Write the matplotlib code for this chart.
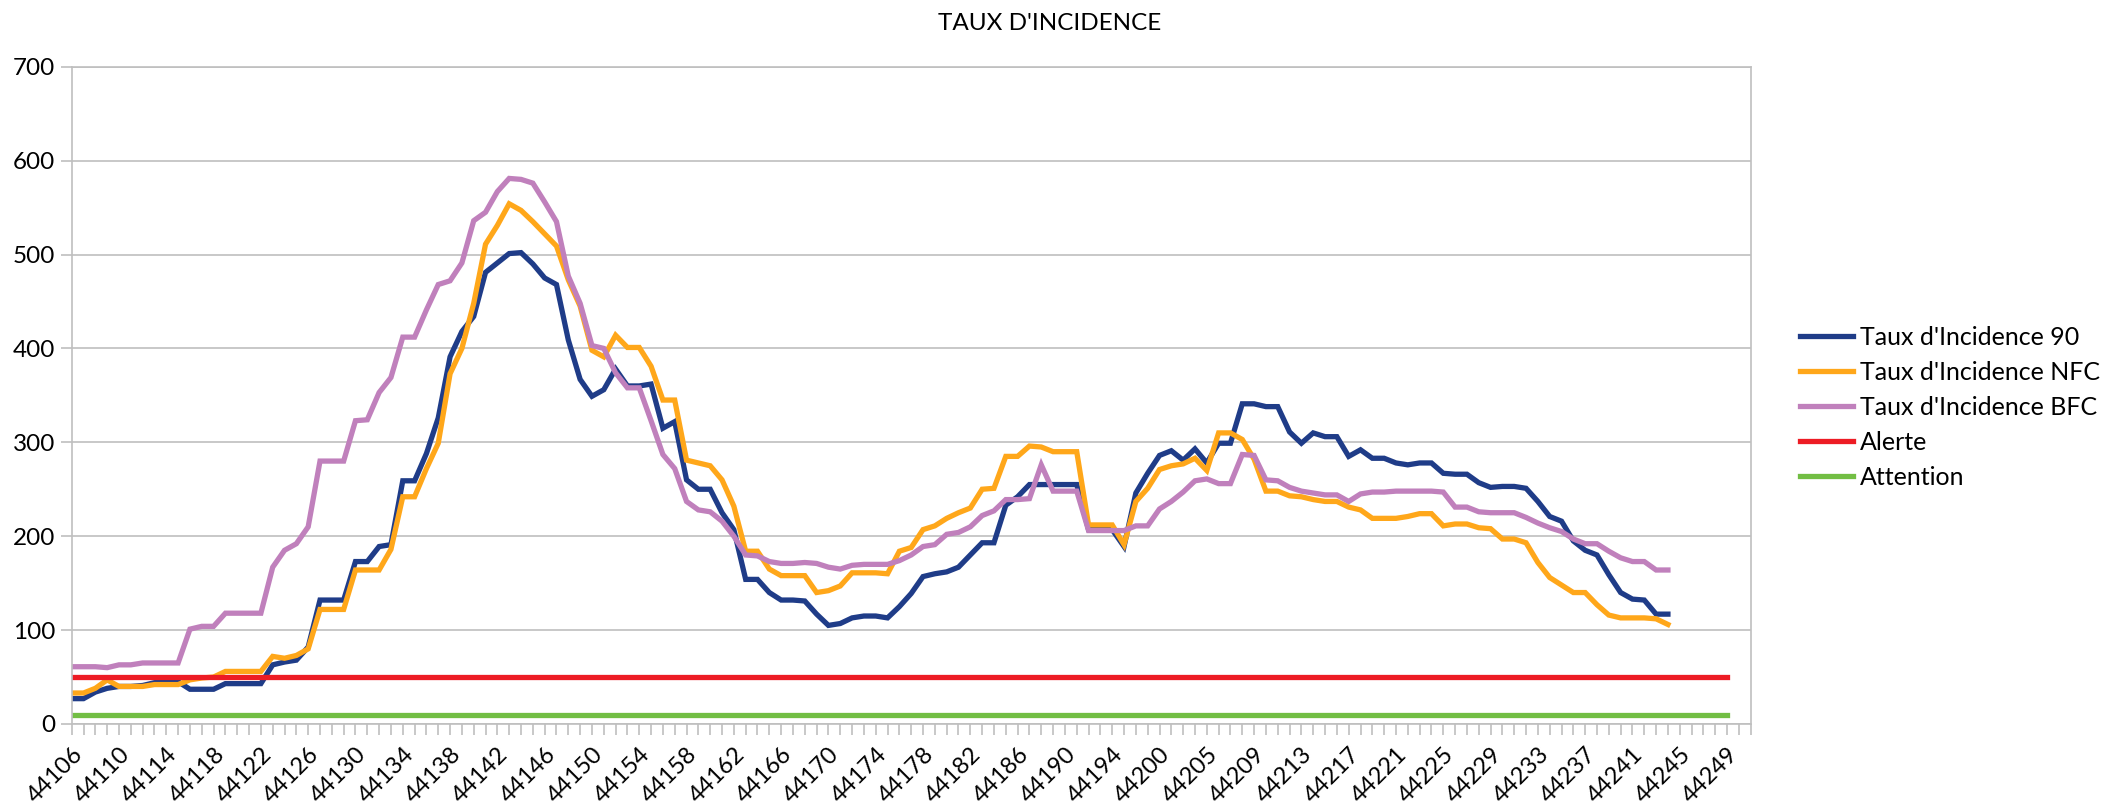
import numpy as np
import matplotlib
matplotlib.use("Agg")
import matplotlib.pyplot as plt

plt.rcParams['font.family'] = ['Lato', 'DejaVu Sans']

# Category axis: Excel serial dates (a few days missing around new year)
dates = (list(range(44106, 44195)) + [44195, 44197, 44199, 44200, 44201, 44202, 44204]
         + list(range(44205, 44250)))

# Series values, one per category (series stop at 44244)
taux_90 = [27, 27, 34, 38, 40, 40, 41, 44, 45, 45, 37, 37, 37, 43, 43, 43, 43, 63, 66, 68,
           82, 132, 132, 132, 173,
           173, 189, 191, 259, 259, 288, 326, 391, 418, 434, 481, 491, 501, 502, 490,
           475, 468, 409, 367, 349, 356, 378, 360, 360, 362, 315,
           322, 260, 250, 250, 225, 207, 154, 154, 140, 132, 132, 131, 117, 105, 107,
           113, 115, 115, 113, 125, 139, 157, 160, 162, 167,
           180, 193, 193, 233, 242, 255, 255, 255, 255, 255, 207, 207, 207, 189, 246,
           267, 286, 291, 281, 293, 278, 299, 299, 341, 341,
           338, 338, 311, 299, 310, 306, 306, 285, 292, 283, 283, 278, 276, 278, 278,
           267, 266, 266, 257, 252, 253, 253, 251, 237, 221, 216, 195, 185, 180, 159,
           140, 133, 132, 117, 117]

taux_nfc = [33, 33, 38, 47, 40, 40, 40, 42, 42, 42, 47, 49, 50, 56, 56, 56, 56, 72, 70, 73,
            80, 122, 122, 122, 164,
            164, 164, 186, 242, 242, 272, 299, 373, 400, 448, 511, 531, 554, 547, 535,
            522, 509, 473, 445, 398, 391, 414, 401, 401, 381, 345,
            345, 281, 278, 275, 260, 232, 184, 184, 165, 158, 158, 158, 140, 142, 147,
            161, 161, 161, 160, 184, 188, 207, 211, 219, 225,
            230, 250, 251, 285, 285, 296, 295, 290, 290, 290, 212, 212, 212, 191, 237,
            251, 271, 275, 277, 283, 270, 310, 310, 303, 282,
            248, 248, 243, 242, 239, 237, 237, 231, 228, 219, 219, 219, 221, 224, 224,
            211, 213, 213, 209, 208, 197, 197, 193, 172, 156, 148, 140, 140, 127, 116,
            113, 113, 113, 112, 106]

taux_bfc = [61, 61, 61, 60, 63, 63, 65, 65, 65, 65, 101, 104, 104, 118, 118, 118, 118, 167, 185, 192,
            210, 280, 280, 280, 323,
            324, 353, 369, 412, 412, 441, 468, 472, 491, 536, 545, 567, 581, 580, 576,
            556, 535, 477, 448, 403, 400, 374, 358, 358, 323, 287,
            272, 237, 228, 226, 216, 200, 180, 179, 173, 171, 171, 172, 171, 167, 165,
            169, 170, 170, 170, 174, 180, 189, 191, 202, 204,
            210, 222, 227, 239, 239, 240, 276, 248, 248, 248, 206, 206, 206, 206, 211,
            211, 229, 237, 247, 259, 261, 256, 256, 287, 286,
            260, 259, 252, 248, 246, 244, 244, 237, 245, 247, 247, 248, 248, 248, 248,
            247, 231, 231, 226, 225, 225, 225, 220, 214, 209, 205, 197, 192, 192, 184,
            177, 173, 173, 164, 164]

alerte = [50] * len(dates)
attention = [10] * len(dates)

series = [
    ("Taux d'Incidence 90", taux_90, '#1F3C88'),
    ("Taux d'Incidence NFC", taux_nfc, '#FFA71A'),
    ("Taux d'Incidence BFC", taux_bfc, '#C080BC'),
    ("Alerte", alerte, '#ED1C24'),
    ("Attention", attention, '#72BE44'),
]

W, H = 2112, 806
fig = plt.figure(figsize=(W / 100, H / 100), dpi=100)
ax = fig.add_axes([71.7 / W, 82 / H, 1679 / W, 657.3 / H])

for name, vals, col in series:
    ax.plot(np.arange(len(vals)), vals, color=col, lw=3.8, label=name,
            solid_joinstyle='miter')

grid_col = '#BFBFBF'
ax.set_xlim(0, 142)
ax.set_ylim(0, 700)
ax.set_yticks(range(0, 701, 100))
ax.yaxis.grid(True, color=grid_col, lw=1.2)
ax.set_axisbelow(True)

ax.set_xticks(np.arange(0, 143), minor=True)
ax.set_xticks(np.arange(0, len(dates), 4))
ax.set_xticklabels([str(d) for d in dates[::4]], rotation=45, ha='right',
                   va='top', rotation_mode='anchor', fontsize=17)
ax.tick_params(axis='x', which='both', length=8, width=1.2, color=grid_col, pad=6)
ax.tick_params(axis='y', length=8, width=1.2, color=grid_col, labelsize=17.5, pad=4)

for sp in ax.spines.values():
    sp.set_color(grid_col)
    sp.set_linewidth(1.2)

fig.text(1050 / W, 1 - 24 / H, "TAUX D'INCIDENCE", ha='center', va='center', fontsize=17.5)

fig.legend(loc='center left', bbox_to_anchor=(1800 / W, 1 - 407 / H), frameon=False,
           fontsize=18, handlelength=2.1, handletextpad=0.3, labelspacing=0.48,
           borderpad=0, borderaxespad=0)

fig.savefig('out.png', dpi=100)
